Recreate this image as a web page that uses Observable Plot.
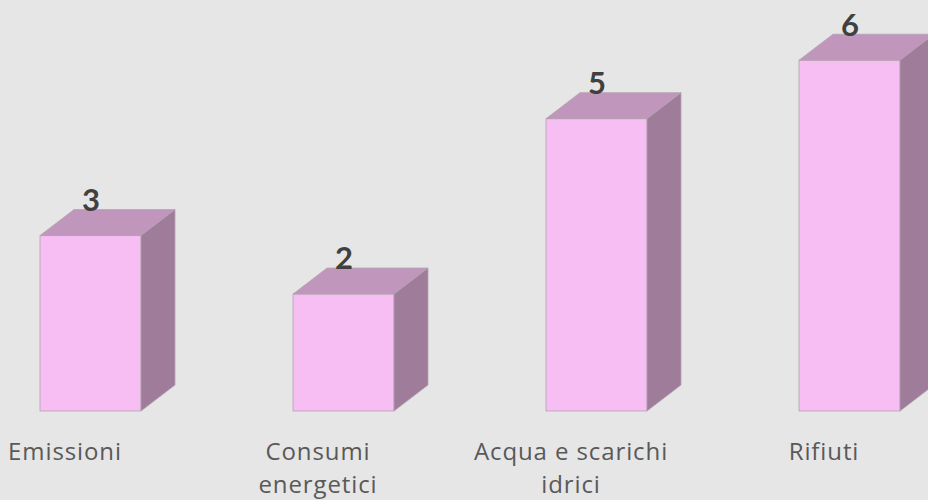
<!DOCTYPE html>
<html>
<head>
<meta charset="utf-8">
<script src="https://cdn.jsdelivr.net/npm/d3@7"></script>
<script src="https://cdn.jsdelivr.net/npm/@observablehq/plot@0.6"></script>
<style>
  html, body { margin: 0; padding: 0; background: #e6e6e6; }
  #chart { width: 928px; height: 500px; overflow: hidden; }
</style>
</head>
<body>
<div id="chart"></div>
<script>
const categories = ["Emissioni", "Consumi energetici", "Acqua e scarichi idrici", "Rifiuti"];
const tickLabels = ["Emissioni", "Consumi\nenergetici", "Acqua e scarichi\nidrici", "Rifiuti"];
const values = [3, 2, 5, 6];

const data = categories.map((c, i) => ({cat: c, value: values[i], label: tickLabels[i]}));

const frontColor = "#f7bef4";
const topColor = "#c196bd";
const sideColor = "#9f7c9a";
const edgeColor = "#b3a3b0";
const depthX = 34, depthY = 26;

function render3d(index, scales, vals, dims, ctx, next) {
  const g = next(index, scales, vals, dims, ctx);
  const bw = scales.x.bandwidth();
  const sel = d3.select(g);
  for (const i of index) {
    const x1 = vals.x[i], x2 = x1 + bw;
    const yt = Math.min(vals.y1[i], vals.y2[i]);
    const yb = Math.max(vals.y1[i], vals.y2[i]);
    sel.append("polygon")
      .attr("points", [[x1, yt], [x2, yt], [x2 + depthX, yt - depthY], [x1 + depthX, yt - depthY]].join(" "))
      .attr("fill", topColor).attr("stroke", edgeColor).attr("stroke-width", 0.8);
    sel.append("polygon")
      .attr("points", [[x2, yt], [x2 + depthX, yt - depthY], [x2 + depthX, yb - depthY], [x2, yb]].join(" "))
      .attr("fill", sideColor).attr("stroke", edgeColor).attr("stroke-width", 0.8);
  }
  return g;
}

const chart = Plot.plot({
  width: 928,
  height: 500,
  marginTop: 0,
  marginBottom: 89,
  marginLeft: 40,
  marginRight: 27,
  style: {background: "#e6e6e6", overflow: "visible"},
  x: {domain: categories, paddingInner: 0.6, paddingOuter: 0, axis: null},
  y: {domain: [0, 7.03], axis: null},
  marks: [
    Plot.barY(data, {x: "cat", y: "value", fill: frontColor, stroke: edgeColor, strokeWidth: 0.8, render: render3d}),
    Plot.text(data, {x: "cat", y: "value", text: d => String(d.value), dy: -35, lineAnchor: "middle",
      fontFamily: "Lato", fontWeight: "bold", fontSize: 31, fill: "#404040"}),
    Plot.text(data, {x: "cat", y: () => 0, text: "label", dx: -26, dy: 25, lineAnchor: "top",
      lineHeight: 1.38, fontFamily: "Open Sans", fontSize: 24, fill: "#595959"})
  ]
});

d3.select(chart).selectAll('g[aria-label="text"]').filter((d, i) => i === 1)
  .attr("letter-spacing", "0.9px");

document.getElementById("chart").appendChild(chart);
</script>
</body>
</html>
